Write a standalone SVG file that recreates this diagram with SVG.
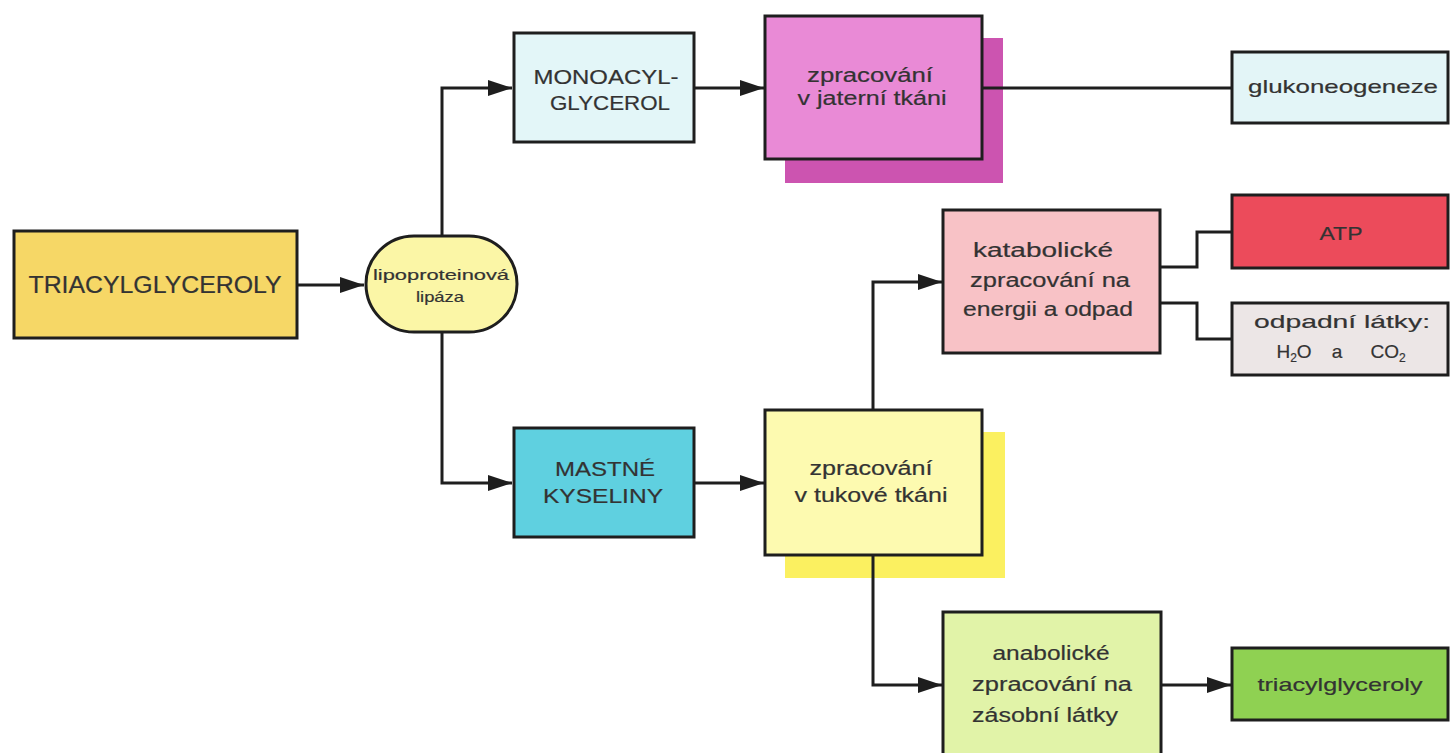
<svg xmlns="http://www.w3.org/2000/svg" width="1451" height="753" viewBox="0 0 1451 753">
<style>
.b{stroke:#1e1e1e;stroke-width:3}
.t{font-family:"Liberation Sans",Arial,sans-serif;fill:#333333;stroke:#333333;stroke-width:0.2;text-anchor:middle}
.c{fill:none;stroke:#1e1e1e;stroke-width:3}
</style>
<defs>
<marker id="a" viewBox="0 0 24 16" refX="24" refY="8" markerWidth="24" markerHeight="16" orient="auto" markerUnits="userSpaceOnUse"><path d="M0,0 L24,8 L0,16 Z" fill="#1e1e1e"/></marker>
</defs>
<rect width="1451" height="753" fill="#ffffff"/>
<g id="n_triacyl">
<rect class="b" x="14" y="231" width="283" height="107" fill="#f6d766"/>
<text class="t" x="155" y="293" font-size="23" textLength="253" lengthAdjust="spacingAndGlyphs">TRIACYLGLYCEROLY</text>
</g>
<g id="n_lipaza">
<rect class="b" x="366" y="236" width="151" height="96" rx="48" ry="48" fill="#fbf6a6"/>
<text class="t" x="441" y="280" font-size="15" textLength="136" lengthAdjust="spacingAndGlyphs">lipoproteinová</text>
<text class="t" x="440" y="302" font-size="15" textLength="48" lengthAdjust="spacingAndGlyphs">lipáza</text>
</g>
<g id="n_monoacyl">
<rect class="b" x="514" y="33" width="180" height="109" fill="#e3f6f8"/>
<text class="t" x="606" y="84" font-size="21" textLength="145" lengthAdjust="spacingAndGlyphs">MONOACYL-</text>
<text class="t" x="610" y="110" font-size="21" textLength="120" lengthAdjust="spacingAndGlyphs">GLYCEROL</text>
</g>
<g id="n_jaterni">
<rect x="785" y="38" width="218" height="145" fill="#cc54b0"/>
<rect class="b" x="765" y="16" width="217" height="143" fill="#e98ad6"/>
<text class="t" x="870" y="82" font-size="20" textLength="126" lengthAdjust="spacingAndGlyphs">zpracování</text>
<text class="t" x="872" y="105" font-size="20" textLength="149" lengthAdjust="spacingAndGlyphs">v jaterní tkáni</text>
</g>
<g id="n_gluko">
<rect class="b" x="1232" y="52" width="216" height="71" fill="#e3f5f7"/>
<text class="t" x="1343" y="93" font-size="19" textLength="190" lengthAdjust="spacingAndGlyphs">glukoneogeneze</text>
</g>
<g id="n_mastne">
<rect class="b" x="514" y="428" width="180" height="109" fill="#5fd0e0"/>
<text class="t" x="605" y="476" font-size="21" textLength="100" lengthAdjust="spacingAndGlyphs">MASTNÉ</text>
<text class="t" x="603" y="503" font-size="21" textLength="120" lengthAdjust="spacingAndGlyphs">KYSELINY</text>
</g>
<g id="n_tukove">
<rect x="785" y="432" width="220" height="146" fill="#fbf060"/>
<rect class="b" x="765" y="410" width="217" height="145" fill="#fdfab0"/>
<text class="t" x="871" y="475" font-size="20" textLength="123" lengthAdjust="spacingAndGlyphs">zpracování</text>
<text class="t" x="871" y="502" font-size="20" textLength="153" lengthAdjust="spacingAndGlyphs">v tukové tkáni</text>
</g>
<g id="n_katabol">
<rect class="b" x="943" y="210" width="217" height="143" fill="#f8c2c6"/>
<text class="t" x="1043" y="257" font-size="20" textLength="140" lengthAdjust="spacingAndGlyphs">katabolické</text>
<text class="t" x="1050" y="287" font-size="20" textLength="160" lengthAdjust="spacingAndGlyphs">zpracování na</text>
<text class="t" x="1048" y="316" font-size="20" textLength="170" lengthAdjust="spacingAndGlyphs">energii a odpad</text>
</g>
<g id="n_atp">
<rect class="b" x="1232" y="195" width="216" height="73" fill="#ec4b5b"/>
<text class="t" x="1341" y="240" font-size="19" textLength="43" lengthAdjust="spacingAndGlyphs">ATP</text>
</g>
<g id="n_odpad">
<rect class="b" x="1232" y="303" width="216" height="72" fill="#ece6e6"/>
<text class="t" x="1342" y="328" font-size="19" textLength="176" lengthAdjust="spacingAndGlyphs">odpadní látky:</text>
<text class="t" x="1294" y="358" font-size="19">H<tspan font-size="12" dy="4">2</tspan><tspan dy="-4">O</tspan></text>
<text class="t" x="1337" y="358" font-size="19">a</text>
<text class="t" x="1388" y="358" font-size="19">CO<tspan font-size="12" dy="4">2</tspan></text>
</g>
<g id="n_anabol">
<rect class="b" x="943" y="612" width="218" height="145" fill="#e1f3a8"/>
<text class="t" x="1051" y="660" font-size="20" textLength="117" lengthAdjust="spacingAndGlyphs">anabolické</text>
<text class="t" x="1052" y="691" font-size="20" textLength="160" lengthAdjust="spacingAndGlyphs">zpracování na</text>
<text class="t" x="1045" y="722" font-size="20" textLength="146" lengthAdjust="spacingAndGlyphs">zásobní látky</text>
</g>
<g id="n_tag">
<rect class="b" x="1232" y="648" width="216" height="72" fill="#8fd152"/>
<text class="t" x="1340" y="691" font-size="19" textLength="165" lengthAdjust="spacingAndGlyphs">triacylglyceroly</text>
</g>
<g id="connectors">
<path class="c" d="M297,285 H364" marker-end="url(#a)"/>
<path class="c" d="M442,236 V88 H512" marker-end="url(#a)"/>
<path class="c" d="M442,332 V483 H512" marker-end="url(#a)"/>
<path class="c" d="M694,88 H764" marker-end="url(#a)"/>
<path class="c" d="M694,483 H764" marker-end="url(#a)"/>
<path class="c" d="M982,88 H1232"/>
<path class="c" d="M873,410 V282 H942" marker-end="url(#a)"/>
<path class="c" d="M873,555 V685 H942" marker-end="url(#a)"/>
<path class="c" d="M1160,267 H1197 V232 H1232"/>
<path class="c" d="M1160,303 H1197 V339 H1232"/>
<path class="c" d="M1162,685 H1231" marker-end="url(#a)"/>
</g>
</svg>
